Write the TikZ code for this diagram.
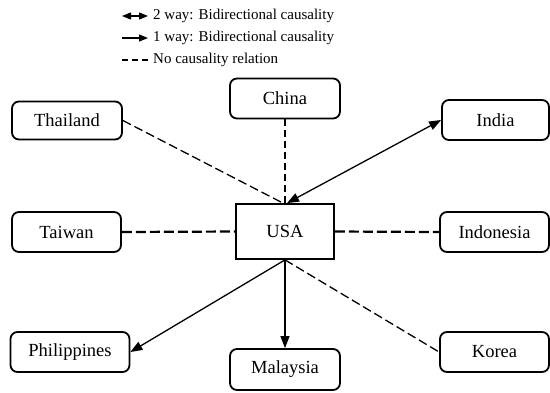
\documentclass[tikz,border=0pt]{standalone}
\usepackage{fontspec}
\setmainfont{Liberation Serif}
\usetikzlibrary{arrows.meta}
\begin{document}
\begin{tikzpicture}[x=1pt,y=-1pt,
  cbox/.style={draw, line width=1.8pt, rounded corners=7pt, inner sep=0pt,
    font=\fontsize{18.5}{20}\selectfont},
  hub/.style={draw, line width=1.8pt, inner sep=0pt,
    font=\fontsize{18.5}{20}\selectfont},
  legtext/.style={anchor=west, inner sep=0pt, font=\fontsize{15}{17}\selectfont},
  oneway/.style={line width=1.3pt, -{Triangle[length=12pt,width=9pt]}},
  twoway/.style={line width=1.3pt, {Triangle[length=12pt,width=9pt]}-{Triangle[length=12pt,width=9pt]}},
  legone/.style={line width=1.3pt, -{Triangle[length=9pt,width=7pt]}},
  legtwo/.style={line width=1.3pt, {Triangle[length=9pt,width=7pt]}-{Triangle[length=9pt,width=7pt]}},
  thickdash/.style={line width=2.2pt, dash pattern=on 10pt off 4pt},
  vdash/.style={line width=2pt, dash pattern=on 7pt off 4pt},
  thindash/.style={line width=1.3pt, dash pattern=on 9pt off 4pt},
  legdash/.style={line width=2.2pt, dash pattern=on 6pt off 4pt}]
\useasboundingbox (0,0) rectangle (550,392);

% legend
\coordinate (la1) at (122,16);
\coordinate (lb1) at (148,16);
\coordinate (la2) at (122,38);
\coordinate (lb2) at (148,38);
\coordinate (la3) at (122,60);
\coordinate (lb3) at (148,60);
\draw[legtwo] (la1) -- (lb1);
\draw[legone] (la2) -- (lb2);
\draw[legdash] (la3) -- (lb3);
\node[legtext] (t1) at (153,16) {2 way: Bidirectional causality};
\node[legtext] (t2) at (153,38) {1 way: Bidirectional causality};
\node[legtext] (t3) at (153,60) {No causality relation};

% nodes
\node[hub, minimum width=98pt, minimum height=55pt] (usa) at (285,231.5) {USA};
\node[cbox, minimum width=110pt, minimum height=38pt] (thai) at (67,120.5) {Thailand};
\node[cbox, minimum width=110pt, minimum height=40pt] (china) at (285,98.5) {China};
\node[cbox, minimum width=107pt, minimum height=40pt] (india) at (495.5,120) {India};
\node[cbox, minimum width=109pt, minimum height=40pt] (taiwan) at (66.5,232) {Taiwan};
\node[cbox, minimum width=109pt, minimum height=40pt] (indo) at (494.5,232) {Indonesia};
\node[cbox, minimum width=119pt, minimum height=40pt] (phil) at (70,352) {Philippines};
\node[cbox, minimum width=110pt, minimum height=41pt] (malay) at (285,369.5) {Malaysia};
\node[cbox, minimum width=109pt, minimum height=40pt] (korea) at (494.5,352) {Korea};

% connectors
\draw[thindash] (thai.east) -- ([xshift=-2pt]usa.north);
\draw[vdash] (china.south) -- (usa.north);
\draw[twoway] ([xshift=2pt]usa.north) -- (india.west);
\draw[thickdash] (taiwan.east) -- (usa.west);
\draw[thickdash] (usa.east) -- (indo.west);
\draw[oneway] (usa.south) -- (phil.east);
\draw[oneway] (usa.south) -- (malay.north);
\draw[thindash] (usa.south) -- (korea.west);
\end{tikzpicture}
\end{document}
